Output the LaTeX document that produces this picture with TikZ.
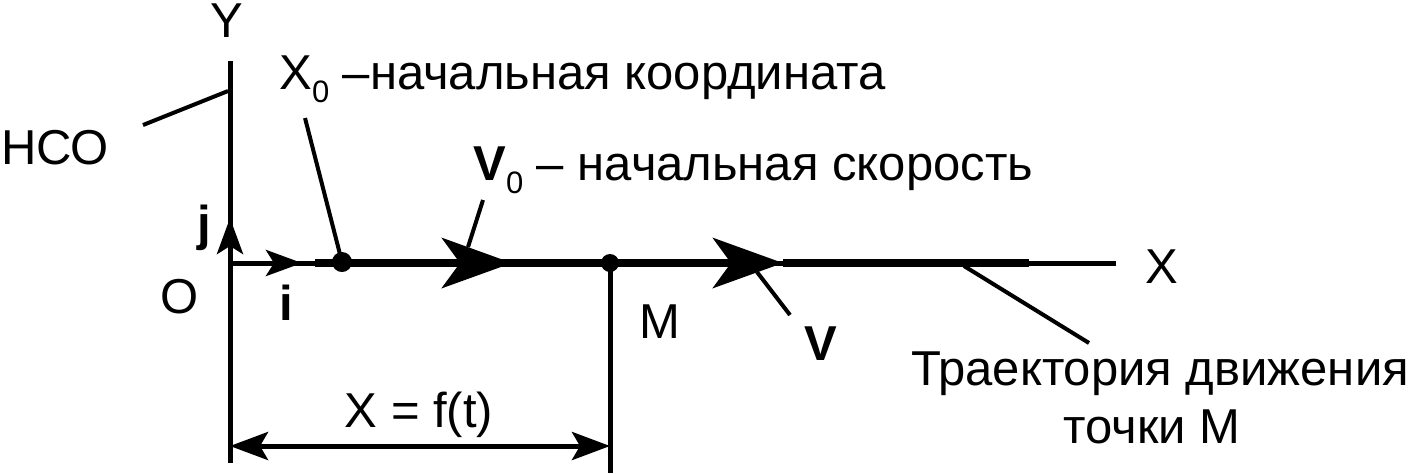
\documentclass[tikz,border=0pt]{standalone}
\usepackage{fontspec}
\setmainfont{Liberation Sans}
\usetikzlibrary{arrows.meta}
\newcommand\subzero{\raisebox{-6.5pt}{\fontsize{15.5}{15.5}\selectfont 0}}
\tikzset{
  lbl/.style={inner sep=0pt, anchor=base, font=\fontsize{24.5}{29}\selectfont},
  lblw/.style={lbl, anchor=base west},
  bld/.style={lbl, font=\fontsize{24.5}{29}\selectfont\bfseries},
  axisline/.style={line width=2.5pt},
  thickline/.style={line width=4pt},
  leader/.style={line width=2pt},
  bigtip/.style={-{Stealth[length=35pt,width=25pt,inset=9pt]}},
  unittip/.style={-{Stealth[length=18pt,width=13pt,inset=4pt]}},
  dimtip/.style={{Stealth[length=19pt,width=14pt,inset=4pt]}-{Stealth[length=19pt,width=14pt,inset=4pt]}},
  dot/.style={circle, fill=black, inner sep=0pt, minimum size=#1},
}
\begin{document}
\begin{tikzpicture}[x=0.5pt, y=-0.5pt]
\useasboundingbox (0,0) rectangle (1416,473);

% coordinates
\coordinate (O) at (230,263);
\coordinate (ytop) at (230,61);
\coordinate (ybot) at (230,463);
\coordinate (jtip) at (230,218);
\coordinate (itip) at (302,263);
\coordinate (xend) at (1116,263);
\coordinate (thickA) at (315,263);
\coordinate (v0tip) at (512,263);
\coordinate (vtip) at (783,263);
\coordinate (thickB) at (1029,263);
\coordinate (mbot) at (610,473);
\coordinate (dimL) at (230,446);
\coordinate (dimR) at (610,446);
\coordinate (hcoA) at (143,125);
\coordinate (hcoB) at (228,91);
\coordinate (x0A) at (305,118);
\coordinate (v0A) at (483,200);
\coordinate (v0B) at (468,247);
\coordinate (vA) at (757,272);
\coordinate (vB) at (790,315);
\coordinate (trA) at (964,266);
\coordinate (trB) at (1089,343);

% axes
\draw[axisline] (ytop) -- (ybot);
\draw[axisline] (O) -- (xend);
\draw[axisline, unittip] (O) -- (jtip);
\draw[axisline, unittip] (O) -- (itip);

% trajectory (thick) with velocity arrows
\draw[thickline] (thickA) -- (v0tip);
\draw[thickline, bigtip] (thickA) -- (v0tip);
\draw[thickline, bigtip] (v0tip) -- (vtip);
\draw[thickline] (vtip) -- (thickB);

% points
\node[dot=10pt] (x0dot) at (342,262) {};
\node[dot=9pt] (mdot) at (610,263) {};

% M vertical and dimension
\draw[axisline] (mdot.center) -- (mbot);
\draw[axisline, dimtip] (dimL) -- (dimR);

% leaders
\draw[leader] (hcoA) -- (hcoB);
\draw[leader] (x0A) -- (x0dot.center);
\draw[leader] (v0A) -- (v0B);
\draw[leader] (vA) -- (vB);
\draw[leader] (trA) -- (trB);

% labels
\node[lbl] (ylab) at (227,37) {Y};
\node[lbl] (hco) at (55,164) {НСО};
\node[lblw] (x0lab) at (279,89) {X\subzero{} –начальная координата};
\node[lblw] (v0lab) at (473,180) {\textbf{V}\subzero{} – начальная скорость};
\node[lbl] (olab) at (180,313) {O};
\node[bld] (jlab) at (204,240) {j};
\node[bld] (ilab) at (286,320) {i};
\node[lbl] (mlab) at (660,338) {M};
\node[bld] (vlab) at (821,360) {V};
\node[lbl] (xlab) at (1162,283) {X};
\node[lbl] (flab) at (419,427) {X = f(t)};
\node[lbl] (traj1) at (1160,385) {Траектория движения};
\node[lbl] (traj2) at (1152,443) {точки M};
\end{tikzpicture}
\end{document}
